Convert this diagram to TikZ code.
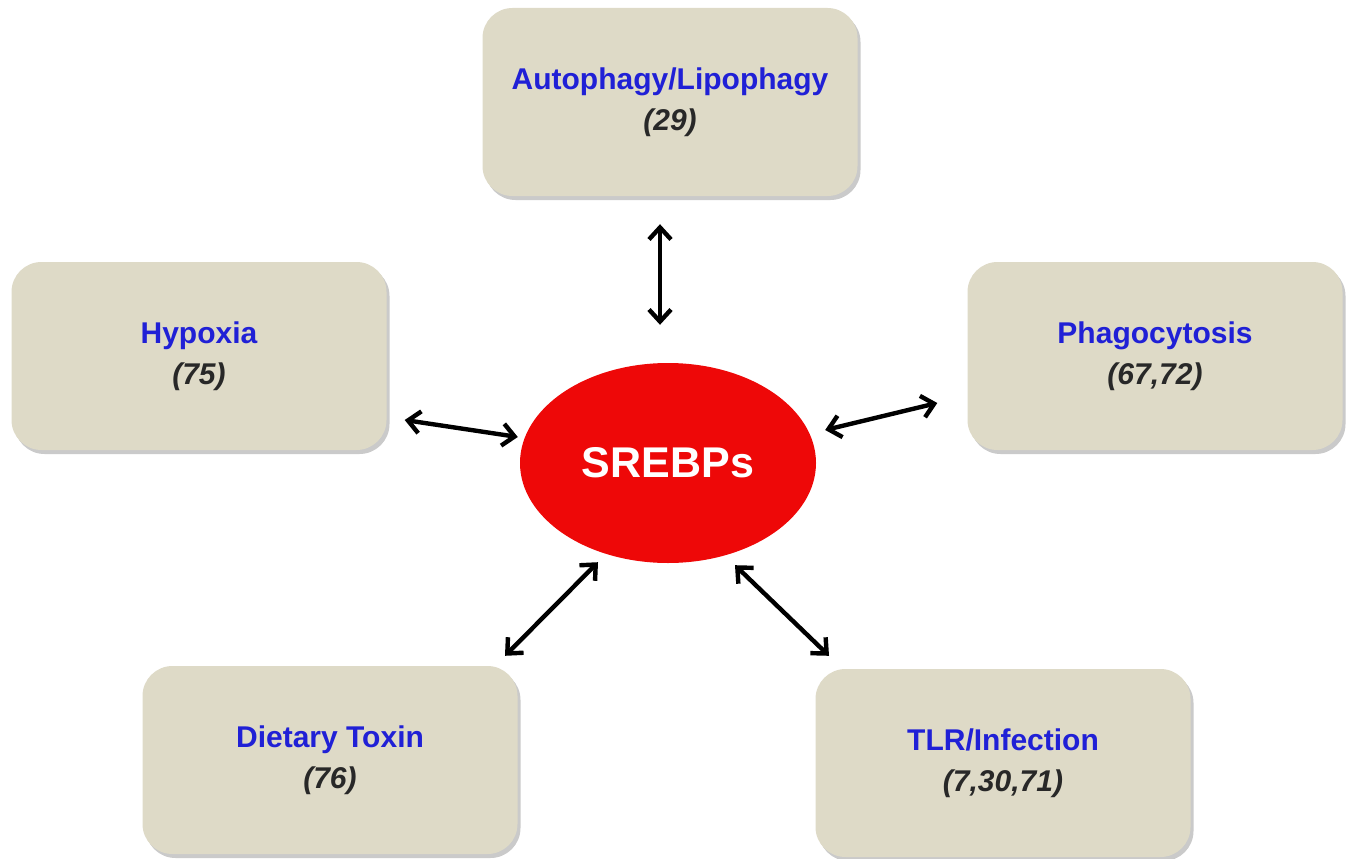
\documentclass[tikz,border=0pt]{standalone}
\usepackage{fontspec}
\setmainfont{Liberation Sans}
\usetikzlibrary{arrows.meta,shadows,calc,shapes.geometric}
\definecolor{boxfill}{RGB}{222,218,199}
\definecolor{lblue}{RGB}{32,32,214}
\definecolor{refgray}{RGB}{40,40,40}
\definecolor{sred}{RGB}{238,8,8}
\tikzset{
  topic/.style={rectangle, rounded corners=30pt, fill=boxfill, draw=none,
    minimum width=375pt, minimum height=188pt, align=center,
    font=\fontsize{30}{41}\selectfont\bfseries,
    drop shadow={shadow xshift=3pt, shadow yshift=-4pt, opacity=0.35, fill=black!60}},
  conn/.style={line width=4.4pt, black, {Straight Barb[length=12pt,width=22pt,line width=4.4pt]}-{Straight Barb[length=12pt,width=22pt,line width=4.4pt]}}
}
\newcommand{\boxtext}[2]{{\color{lblue}#1}\\{\itshape\color{refgray}#2}}
\begin{document}
\begin{tikzpicture}[x=1pt,y=-1pt]
\useasboundingbox (0,0) rectangle (1352,859);
\node[topic] (auto) at (670,102) {\boxtext{Autophagy/Lipophagy}{(29)}};
\node[topic] (hyp) at (199,356) {\boxtext{Hypoxia}{(75)}};
\node[topic] (pha) at (1155,356) {\boxtext{Phagocytosis}{(67,72)}};
\node[topic] (diet) at (330,760) {\boxtext{Dietary Toxin}{(76)}};
\node[topic] (tlr) at (1003,763) {\boxtext{TLR/Infection}{(7,30,71)}};
\node[ellipse, fill=sred, draw=none, minimum width=296pt, minimum height=200pt, text=white, font=\fontsize{43}{48}\selectfont\bfseries] (sre) at (668,463) {SREBPs};
\draw[conn] ($(auto.south)+(-10,28)$) -- ($(sre.north)+(-8,-38)$);
\draw[conn] ($(hyp.east)+(18,64)$) -- ($(sre.west)+(-2,-26)$);
\draw[conn] ($(sre.east)+(9,-33)$) -- ($(pha.west)+(-30,47)$);
\draw[conn] ($(diet.north)+(175,-10)$) -- ($(sre.south)+(-70,-1)$);
\draw[conn] ($(sre.south)+(67,2)$) -- ($(tlr.north)+(-174,-13)$);
\end{tikzpicture}
\end{document}
